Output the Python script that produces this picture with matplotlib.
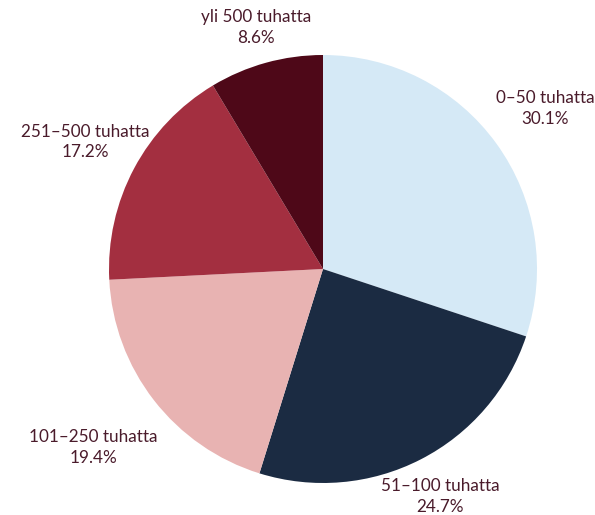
import matplotlib
matplotlib.use("Agg")
import matplotlib.pyplot as plt
import numpy as np

categories = ["0–50 tuhatta", "51–100 tuhatta", "101–250 tuhatta", "251–500 tuhatta", "yli 500 tuhatta"]
values = [30.1, 24.7, 19.4, 17.2, 8.6]
colors = ["#d5e9f6", "#1b2b42", "#e8b3b2", "#a32f40", "#4e0818"]
label_dist = [1.28, 1.195, 1.36, 1.26, 1.17]

plt.rcParams['font.family'] = ['Lato', 'DejaVu Sans']

fig = plt.figure(figsize=(5.95, 5.15), dpi=100)
ax = fig.add_axes([0, 0, 1, 1])
labels = [f"{c}\n{v}%" for c, v in zip(categories, values)]
wedges, texts = ax.pie(values, colors=colors, startangle=90, counterclock=False,
                       labels=labels, labeldistance=1.25,
                       textprops=dict(color="#4a1b2b", fontsize=12.3, linespacing=1.35),
                       wedgeprops=dict(linewidth=0))
for w, t, d in zip(wedges, texts, label_dist):
    ang = np.deg2rad((w.theta1 + w.theta2) / 2)
    t.set_position((d * np.cos(ang), d * np.sin(ang)))
    t.set_ha("center")
    t.set_va("center")
    t.set_multialignment("center")

R = 214.0
cx, cy = 323.0, 269.0
ax.set_aspect("auto")
ax.set_xlim(-cx / R, (595 - cx) / R)
ax.set_ylim(-(515 - cy) / R, cy / R)
ax.axis("off")
fig.savefig("out.png", dpi=100)
